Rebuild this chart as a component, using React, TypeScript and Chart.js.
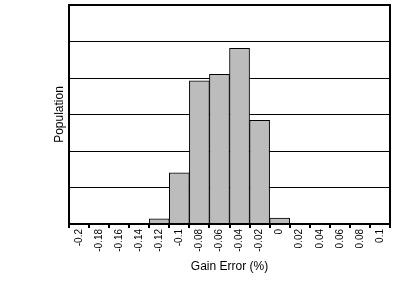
import React, { useEffect, useRef } from "react";
import { Chart, registerables } from "chart.js";

Chart.register(...registerables);

const categories = ["-0.2", "-0.18", "-0.16", "-0.14", "-0.12", "-0.1", "-0.08", "-0.06", "-0.04", "-0.02", "0", "0.02", "0.04", "0.06", "0.08", "0.1"];
const population = [0, 0, 0, 0, 0.14, 1.4, 3.92, 4.1, 4.81, 2.84, 0.16, 0, 0, 0, 0, 0];
const yMax = 6;

const boxPlugin = {
  id: "box",
  afterDatasetsDraw(chart: any) {
    const { ctx, chartArea } = chart;
    ctx.save();
    ctx.strokeStyle = "#000";
    ctx.lineWidth = 2;
    ctx.strokeRect(chartArea.left, chartArea.top, chartArea.right - chartArea.left, chartArea.bottom - chartArea.top);
    ctx.restore();
  },
};

export default function App() {
  const ref = useRef<HTMLCanvasElement>(null);
  useEffect(() => {
    document.body.style.margin = "0";
    const chart = new Chart(ref.current!, {
      type: "bar",
      data: {
        labels: categories,
        datasets: [
          {
            data: population,
            backgroundColor: "#bcbcbc",
            borderColor: "#000",
            borderWidth: 1,
            barPercentage: 1,
            categoryPercentage: 1,
          },
        ],
      },
      options: {
        animation: false,
        responsive: false,
        devicePixelRatio: 1,
        layout: { padding: { left: 0, right: 16, top: 5, bottom: 0 } },
        plugins: { legend: { display: false }, tooltip: { enabled: false } },
        scales: {
          x: {
            offset: true,
            border: { display: false },
            grid: { offset: true, drawOnChartArea: false, drawTicks: true, tickLength: 4, lineWidth: 2, color: "#000" },
            ticks: {
              autoSkip: false,
              minRotation: 90,
              maxRotation: 90,
              padding: 1,
              color: "#000",
              font: { family: "'Liberation Sans', Arial, sans-serif", size: 10 },
            },
            title: {
              display: true,
              text: "Gain Error (%)",
              color: "#000",
              font: { family: "'Liberation Sans', Arial, sans-serif", size: 12 },
              padding: { top: 0, bottom: 7 },
            },
            afterFit(scale: any) {
              scale.height = 57;
            },
          },
          y: {
            min: 0,
            max: yMax,
            border: { display: false },
            grid: { color: "#000", lineWidth: 1, drawTicks: false },
            ticks: { display: false, stepSize: 1 },
            title: {
              display: true,
              text: "Population",
              color: "#000",
              font: { family: "'Liberation Sans', Arial, sans-serif", size: 12 },
              padding: { top: 52, bottom: 0 },
            },
            afterFit(scale: any) {
              scale.width = 69;
            },
          },
        },
      },
      plugins: [boxPlugin],
    });
    return () => chart.destroy();
  }, []);
  return (
    <div style={{ position: "absolute", left: 0, top: 0, width: 406, height: 281 }}>
      <canvas ref={ref} width={406} height={281} />
    </div>
  );
}
